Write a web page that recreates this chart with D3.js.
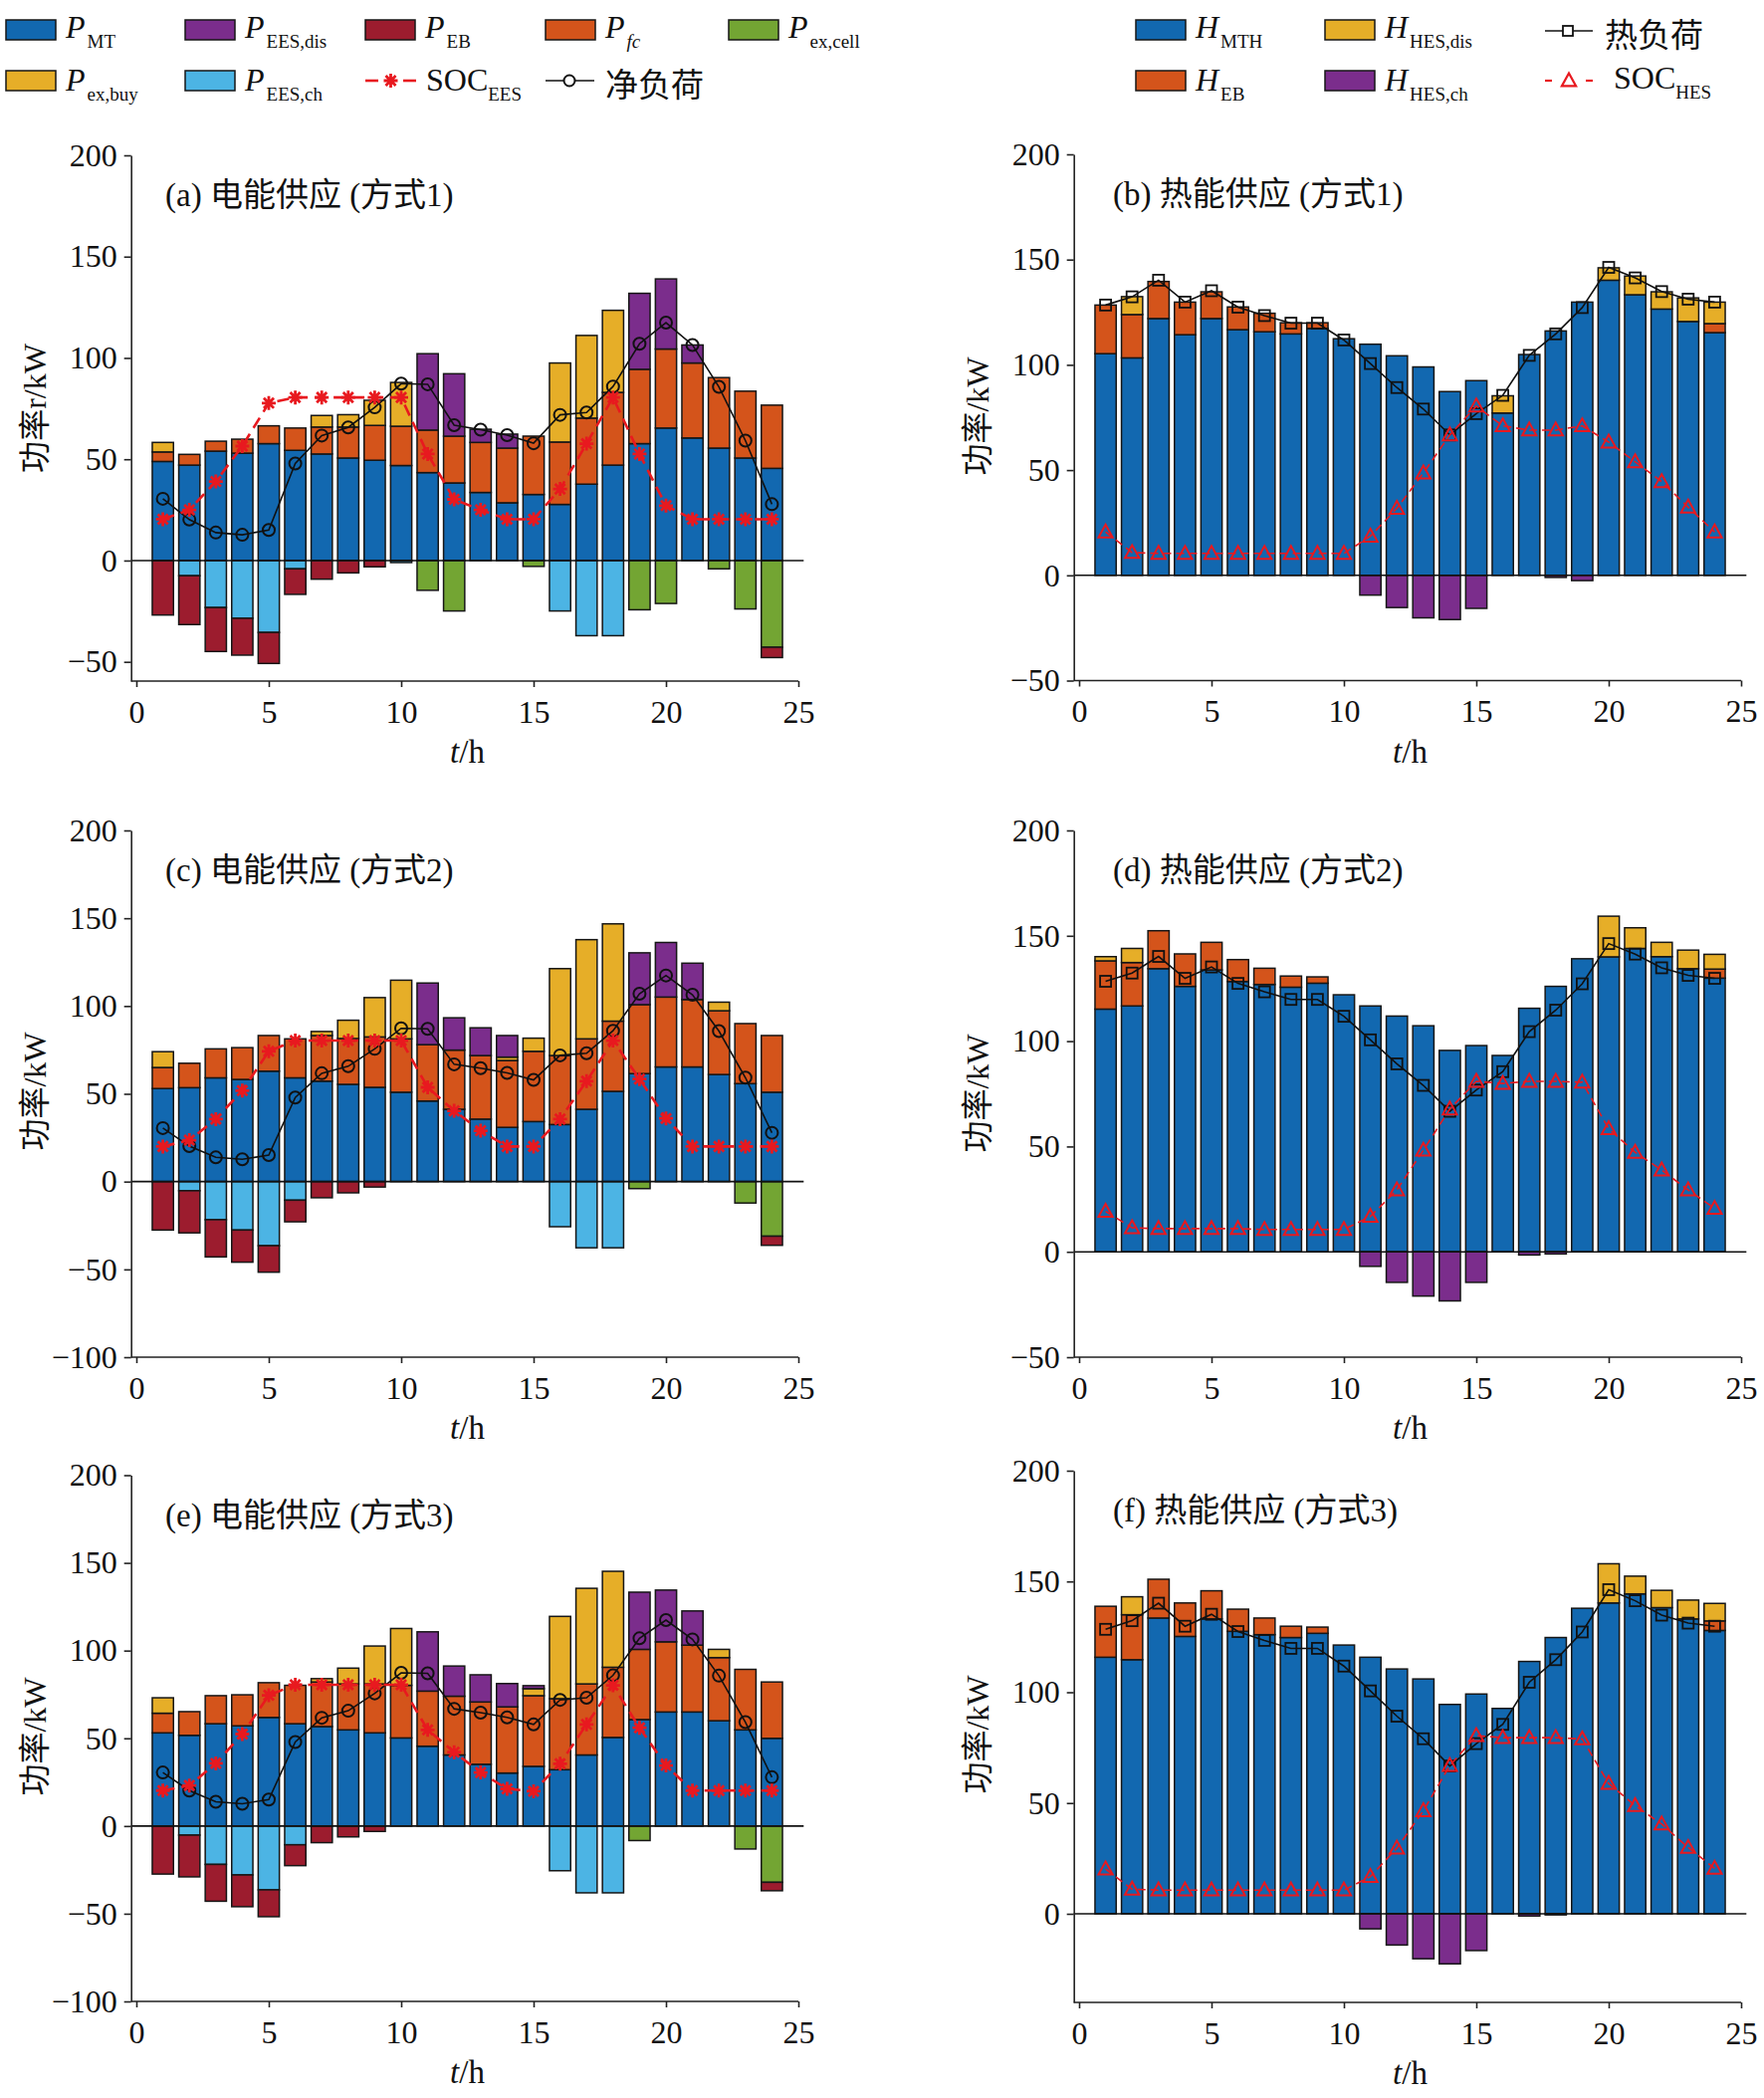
<!DOCTYPE html>
<html>
<head>
<meta charset="utf-8">
<script src="https://cdn.jsdelivr.net/npm/d3@7"></script>
<style>
body { margin: 0; background: #fff; }
text { font-family: "Liberation Serif", "Noto Sans CJK SC", serif; fill: #111; }
.cjk { font-family: "Noto Sans CJK SC", sans-serif; }
</style>
</head>
<body>
<svg id="chart" width="1772" height="2107"></svg>
<script>
var hours = [1,2,3,4,5,6,7,8,9,10,11,12,13,14,15,16,17,18,19,20,21,22,23,24];
var xTicks = [0,5,10,15,20,25];

// electric supply, mode 1
var a_MT   = [48.9,47.1,54.0,53.0,57.7,54.4,52.6,50.6,49.5,46.9,43.4,38.3,33.6,28.5,32.6,27.7,37.7,47.1,57.7,65.4,60.5,55.5,50.6,45.5];
var a_fc   = [4.7,5.3,4.9,6.9,8.8,11.0,13.3,15.3,17.2,19.4,21.0,23.1,24.7,27.0,28.8,30.8,32.6,35.9,36.7,39.0,37.0,34.8,33.0,31.2];
var a_buy  = [4.7,0,0,0,0,0,5.7,6.1,12.4,21.6,0,0,0,0,0,39.0,40.8,40.5,0,0,0,0,0,0];
var a_dis  = [0,0,0,0,0,0,0,0,0,0,37.7,30.8,6.5,6.9,0,0,0,0,37.5,34.6,8.9,0,0,0];
var a_ch   = [0,-7.5,-23.2,-28.5,-35.5,-4.1,0,0,0,-1.0,0,0,0,0,0,-24.9,-37.1,-37.1,0,0,0,0,0,0];
var a_cell = [0,0,0,0,0,0,0,0,0,0,-14.7,-24.9,0,0,-2.9,0,0,0,-24.3,-21.2,0,-4.1,-23.9,-42.8];
var a_EB   = [-26.9,-24.1,-21.7,-18.2,-15.3,-12.6,-9.2,-6.1,-3.1,0,0,0,0,0,0,0,0,0,0,0,0,0,0,-5.1];
var a_SOC  = [20.4,25.0,39.0,56.5,77.7,80.5,80.5,80.5,80.5,80.5,52.6,30.2,25.0,20.4,20.4,35.3,57.7,80.5,52.6,27.1,20.4,20.4,20.4,20.4];

// electric supply, mode 2
var c_MT   = [53.0,53.5,59.1,58.2,62.9,59.1,57.2,55.4,53.7,50.9,45.9,41.2,35.6,30.9,34.2,32.5,41.2,51.4,61.5,65.3,65.3,61.0,55.8,50.9];
var c_fc   = [12.0,13.9,16.5,18.1,20.3,22.2,26.0,26.1,28.7,30.4,32.1,33.7,36.2,38.1,40.0,39.3,40.1,40.0,39.3,39.8,38.4,36.3,34.2,32.3];
var c_buy  = [9.0,0,0,0,0,0,2.3,10.4,22.4,33.4,0,0,0,1.9,7.5,49.5,56.5,55.4,0,0,0,4.9,0,0];
var c_dis  = [0,0,0,0,0,0,0,0,0,0,35.1,18.4,15.8,12.3,0,0,0,0,29.5,31.1,20.7,0,0,0];
var c_ch   = [0,-5.2,-21.7,-27.6,-36.5,-10.6,0,0,0,0,0,0,0,0,0,-25.7,-37.7,-37.7,0,0,0,0,0,0];
var c_cell = [0,0,0,0,0,0,0,0,0,0,0,0,0,0,0,0,0,0,-4.0,0,0,0,-12.2,-31.1];
var c_EB   = [-27.6,-24.0,-21.2,-18.3,-15.1,-12.3,-9.2,-6.4,-3.1,0,0,0,0,0,0,0,0,0,0,0,0,0,0,-5.2];
var c_SOC  = [20.0,23.6,35.6,51.8,74.2,80.3,80.3,80.3,80.3,80.3,53.7,40.3,29.0,20.0,20.0,35.6,57.2,80.3,58.4,36.0,20.0,20.0,20.0,20.0];

// electric supply, mode 3
var e_MT   = [53.1,51.7,58.3,57.1,61.9,58.3,56.7,54.8,53.1,50.2,45.5,40.5,35.2,30.2,34.0,32.1,40.5,50.5,60.7,65.0,65.0,60.0,54.8,50.0];
var e_fc   = [11.2,13.5,16.0,17.7,19.8,21.9,25.4,26.2,27.9,30.0,31.4,33.5,35.5,37.7,40.3,40.5,40.5,40.0,40.0,40.0,38.1,36.0,34.5,32.1];
var e_buy  = [8.8,0,0,0,0,0,1.9,9.0,21.6,32.4,0,0,0,0,4.0,46.9,54.5,54.7,0,0,0,4.7,0,0];
var e_dis  = [0,0,0,0,0,0,0,0,0,0,33.8,17.2,15.5,13.3,1.7,0,0,0,32.6,29.5,19.5,0,0,0];
var e_ch   = [0,-5.2,-21.9,-27.9,-36.4,-10.7,0,0,0,0,0,0,0,0,0,-25.5,-38.1,-38.1,0,0,0,0,0,0];
var e_cell = [0,0,0,0,0,0,0,0,0,0,0,0,0,0,0,0,0,0,-8.3,0,0,0,-13.1,-32.1];
var e_EB   = [-27.4,-23.8,-21.0,-18.1,-15.3,-11.9,-9.5,-6.2,-3.1,0,0,0,0,0,0,0,0,0,0,0,0,0,0,-4.8];
var e_SOC  = [20.2,23.1,35.7,52.4,74.5,80.5,80.5,80.5,80.5,80.5,54.8,42.1,30.5,21.2,19.8,35.5,57.9,80.2,56.0,34.5,20.2,20.2,20.2,20.2];

var netLoad = [30.5,20.2,13.8,12.7,15.1,47.9,61.7,65.7,75.6,87.3,87.0,66.8,64.6,61.9,57.9,71.9,73.1,85.9,107.0,117.4,106.4,85.7,59.2,27.8];

// heat supply, mode 1
var b_MTH = [105.3,103.3,122.0,114.3,122.0,116.7,115.7,114.7,117.3,112.4,109.8,104.3,99.0,87.3,92.5,77.1,104.9,116.1,129.8,140.2,133.3,126.5,120.6,115.3];
var b_EB  = [23.1,20.6,17.6,15.5,12.7,10.8,8.8,5.3,2.7,0,0,0,0,0,0,0,0,0,0,0,0,0,0,4.3];
var b_dis = [0,8.5,0,0,0,0,0,0,0,0,0,0,0,0,0,8.2,0,0,0,5.9,8.9,8.2,11.2,10.2];
var b_ch  = [0,0,0,0,0,0,0,0,0,0,-9.4,-15.3,-20.2,-21.0,-15.7,0,0,-1.0,-2.5,0,0,0,0,0];
var b_SOC = [20.6,10.8,10.4,10.4,10.4,10.4,10.4,10.4,10.4,10.4,18.6,31.8,48.6,66.7,80.4,71.0,69.0,69.0,71.0,63.3,53.9,44.5,32.4,20.6];

// heat supply, mode 2
var d_MTH = [115.2,116.7,134.4,126.0,133.8,128.3,126.9,125.6,127.5,122.0,116.7,111.9,107.3,95.6,97.9,93.2,115.6,126.0,139.1,140.0,144.0,140.1,134.4,129.9];
var d_EB  = [22.9,20.6,18.0,15.4,13.1,10.4,7.7,5.3,3.0,0,0,0,0,0,0,0,0,0,0,0,0,0,0,4.3];
var d_dis = [2.0,6.7,0,0,0,0,0,0,0,0,0,0,0,0,0,0,0,0,0,19.3,9.8,6.8,8.8,7.0];
var d_ch  = [0,0,0,0,0,0,0,0,0,0,-6.9,-14.5,-21.0,-23.3,-14.5,0,-1.5,-1.0,0,0,0,0,0,0];
var d_SOC = [19.2,11.4,11.0,11.0,11.0,11.0,10.6,10.6,10.6,10.6,16.8,29.4,48.2,67.8,80.9,79.9,80.9,80.9,80.5,58.4,47.2,38.8,29.4,20.6];

// heat supply, mode 3
var f_MTH = [115.8,114.7,133.5,125.2,133.1,127.5,126.0,124.7,126.6,121.3,115.8,110.5,106.0,94.5,99.2,92.7,113.9,124.7,137.9,140.3,144.4,138.2,133.1,127.9];
var f_EB  = [23.0,20.3,17.5,15.1,12.7,10.0,7.5,5.1,2.8,0,0,0,0,0,0,0,0,0,0,0,0,0,0,4.3];
var f_dis = [0,8.1,0,0,0,0,0,0,0,0,0,0,0,0,0,0,0,0,0,17.7,8.0,7.8,8.5,7.9];
var f_ch  = [0,0,0,0,0,0,0,0,0,0,-6.8,-14.1,-20.3,-22.6,-16.6,0,-1.0,-0.5,0,0,0,0,0,0];
var f_SOC = [20.2,11.1,10.7,10.7,10.7,10.7,10.7,10.7,10.7,10.7,16.8,29.6,46.5,66.9,80.4,79.5,79.5,79.5,78.9,58.8,48.8,40.5,29.9,20.5];

var heatLoad = [128.4,132.3,140.2,129.8,135.2,127.4,123.4,119.8,119.8,111.8,100.6,89.2,79.0,66.7,76.8,85.5,104.5,114.7,127.2,146.3,141.3,134.8,131.2,129.8];

var elecKeys = ["MT", "fc", "buy", "dis", "ch", "cell", "EB"];
var heatKeys = ["MTH", "EB", "dis", "ch"];

var elecColor = { MT: "#1268B0", fc: "#D4541B", buy: "#E6AE28", dis: "#7B2D8C", ch: "#4CB4E4", cell: "#73A533", EB: "#9C1C2E" };
var heatColor = { MTH: "#1268B0", EB: "#D4541B", dis: "#E6AE28", ch: "#7B2D8C" };
var red = "#E8191F";

var panels = [
    { kind: "elec", title: "(a) 电能供应 (方式1)", ylabel: "功率r/kW", x0: 137, tx: 166, y200: 156, yBottom: 684, yMin: -59.5, ly: 410,
      ticks: [-50,0,50,100,150,200], series: { MT: a_MT, fc: a_fc, buy: a_buy, dis: a_dis, ch: a_ch, cell: a_cell, EB: a_EB }, soc: a_SOC },
    { kind: "heat", title: "(b) 热能供应 (方式1)", ylabel: "功率/kW", x0: 1084, tx: 1118, y200: 155, yBottom: 683.5, yMin: -50, ly: 418,
      ticks: [-50,0,50,100,150,200], series: { MTH: b_MTH, EB: b_EB, dis: b_dis, ch: b_ch }, soc: b_SOC },
    { kind: "elec", title: "(c) 电能供应 (方式2)", ylabel: "功率/kW", x0: 137, tx: 166, y200: 834, yBottom: 1363, yMin: -100, ly: 1096,
      ticks: [-100,-50,0,50,100,150,200], series: { MT: c_MT, fc: c_fc, buy: c_buy, dis: c_dis, ch: c_ch, cell: c_cell, EB: c_EB }, soc: c_SOC },
    { kind: "heat", title: "(d) 热能供应 (方式2)", ylabel: "功率/kW", x0: 1084, tx: 1118, y200: 834, yBottom: 1363, yMin: -50, ly: 1098,
      ticks: [-50,0,50,100,150,200], series: { MTH: d_MTH, EB: d_EB, dis: d_dis, ch: d_ch }, soc: d_SOC },
    { kind: "elec", title: "(e) 电能供应 (方式3)", ylabel: "功率/kW", x0: 137, tx: 166, y200: 1481.5, yBottom: 2010, yMin: -100, ly: 1744,
      ticks: [-100,-50,0,50,100,150,200], series: { MT: e_MT, fc: e_fc, buy: e_buy, dis: e_dis, ch: e_ch, cell: e_cell, EB: e_EB }, soc: e_SOC },
    { kind: "heat", title: "(f) 热能供应 (方式3)", ylabel: "功率/kW", x0: 1084, tx: 1118, y200: 1477, yBottom: 2011, yMin: -40, ly: 1742,
      ticks: [0,50,100,150,200], series: { MTH: f_MTH, EB: f_EB, dis: f_dis, ch: f_ch }, soc: f_SOC }
];

var svg = d3.select("#chart");

function asterisk(s) {
    var k = s * 0.72;
    return "M" + (-s) + ",0L" + s + ",0M0," + (-s) + "L0," + s +
        "M" + (-k) + "," + (-k) + "L" + k + "," + k + "M" + (-k) + "," + k + "L" + k + "," + (-k);
}
function triangle(s) {
    return "M0," + (-s) + "L" + (s * 0.95) + "," + (s * 0.72) + "L" + (-s * 0.95) + "," + (s * 0.72) + "Z";
}

function drawPanel(p) {
    var keys = p.kind === "elec" ? elecKeys : heatKeys;
    var colors = p.kind === "elec" ? elecColor : heatColor;
    var x = d3.scaleLinear().domain([0, 25]).range([p.x0, p.x0 + 665]);
    var y = d3.scaleLinear().domain([p.yMin, 200]).range([p.yBottom, p.y200]);
    var ax = x(-0.2);
    var g = svg.append("g");

    var rows = hours.map(function(h, i) {
        var r = { hour: h };
        keys.forEach(function(k) { r[k] = p.series[k][i]; });
        return r;
    });
    var layers = d3.stack().keys(keys).offset(d3.stackOffsetDiverging)(rows);

    layers.forEach(function(layer) {
        g.selectAll(null)
            .data(layer.filter(function(d) { return d[1] !== d[0]; }))
            .enter()
            .append("rect")
            .attr("x", function(d) { return x(d.data.hour - 0.4); })
            .attr("width", x(0.8) - x(0))
            .attr("y", function(d) { return y(Math.max(d[0], d[1])); })
            .attr("height", function(d) { return Math.abs(y(d[0]) - y(d[1])); })
            .attr("fill", colors[layer.key])
            .attr("stroke", "#161616")
            .attr("stroke-width", 1.5);
    });

    // zero line
    g.append("line")
        .attr("x1", ax).attr("x2", x(25.2))
        .attr("y1", y(0)).attr("y2", y(0))
        .attr("stroke", "#111").attr("stroke-width", 1.6);

    // axes
    var yAxis = g.append("g")
        .attr("transform", "translate(" + ax + ",0)")
        .call(d3.axisLeft(y).tickValues(p.ticks).tickSize(7).tickSizeOuter(0).tickPadding(7));
    var xAxis = g.append("g")
        .attr("transform", "translate(0," + p.yBottom + ")")
        .call(d3.axisBottom(x).tickValues(xTicks).tickSize(6).tickSizeOuter(0).tickPadding(13));
    xAxis.select(".domain").remove();
    g.append("line")
        .attr("x1", ax).attr("x2", x(25))
        .attr("y1", p.yBottom).attr("y2", p.yBottom)
        .attr("stroke", "#222").attr("stroke-width", 1.6);
    [yAxis, xAxis].forEach(function(a) {
        a.attr("font-size", 32).attr("font-family", "Liberation Serif");
        a.selectAll("path, line").attr("stroke", "#222").attr("stroke-width", 1.6);
        a.selectAll("text").attr("fill", "#111");
    });

    // axis titles
    var xt = g.append("text")
        .attr("x", x(12.5)).attr("y", p.yBottom + 82)
        .attr("text-anchor", "middle")
        .attr("font-size", 33);
    xt.append("tspan").attr("font-style", "italic").text("t");
    xt.append("tspan").text("/h");

    g.append("text")
        .attr("transform", "translate(" + (p.x0 - 102) + "," + p.ly + ") rotate(-90)")
        .attr("text-anchor", "middle")
        .attr("dominant-baseline", "central")
        .attr("font-size", 32)
        .text(p.ylabel);

    g.append("text")
        .attr("x", p.tx).attr("y", p.y200 + 40)
        .attr("dominant-baseline", "central")
        .attr("font-size", 33)
        .text(p.title);

    // lines
    var line = d3.line()
        .x(function(d) { return x(d.h); })
        .y(function(d) { return y(d.v); });
    var load = p.kind === "elec" ? netLoad : heatLoad;
    var loadPts = hours.map(function(h, i) { return { h: h, v: load[i] }; });
    var socPts = hours.map(function(h, i) { return { h: h, v: p.soc[i] }; });

    g.append("path")
        .datum(loadPts)
        .attr("d", line)
        .attr("fill", "none")
        .attr("stroke", "#111")
        .attr("stroke-width", 1.6);

    if (p.kind === "elec") {
        g.selectAll(null).data(loadPts).enter().append("circle")
            .attr("cx", function(d) { return x(d.h); })
            .attr("cy", function(d) { return y(d.v); })
            .attr("r", 6)
            .attr("fill", "none")
            .attr("stroke", "#111")
            .attr("stroke-width", 2);
    } else {
        g.selectAll(null).data(loadPts).enter().append("rect")
            .attr("x", function(d) { return x(d.h) - 5.5; })
            .attr("y", function(d) { return y(d.v) - 5.5; })
            .attr("width", 11).attr("height", 11)
            .attr("fill", "none")
            .attr("stroke", "#111")
            .attr("stroke-width", 1.8);
    }

    g.append("path")
        .datum(socPts)
        .attr("d", line)
        .attr("fill", "none")
        .attr("stroke", red)
        .attr("stroke-width", p.kind === "elec" ? 2.6 : 1.6)
        .attr("stroke-dasharray", p.kind === "elec" ? "12,7" : "8,5");

    g.selectAll(null).data(socPts).enter().append("path")
        .attr("transform", function(d) { return "translate(" + x(d.h) + "," + y(d.v) + ")"; })
        .attr("d", p.kind === "elec" ? asterisk(7) : triangle(7.5))
        .attr("fill", "none")
        .attr("stroke", red)
        .attr("stroke-width", p.kind === "elec" ? 2.8 : 2);
}

panels.forEach(drawPanel);

// legends
var legendBoxes = [
    { x: 6,    row: 0, color: elecColor.MT,   main: "P", sub: "MT" },
    { x: 186,  row: 0, color: elecColor.dis,  main: "P", sub: "EES,dis" },
    { x: 367,  row: 0, color: elecColor.EB,   main: "P", sub: "EB" },
    { x: 548,  row: 0, color: elecColor.fc,   main: "P", sub: "fc", subItalic: true },
    { x: 732,  row: 0, color: elecColor.cell, main: "P", sub: "ex,cell" },
    { x: 6,    row: 1, color: elecColor.buy,  main: "P", sub: "ex,buy" },
    { x: 186,  row: 1, color: elecColor.ch,   main: "P", sub: "EES,ch" },
    { x: 1141, row: 0, color: heatColor.MTH,  main: "H", sub: "MTH" },
    { x: 1331, row: 0, color: heatColor.dis,  main: "H", sub: "HES,dis" },
    { x: 1141, row: 1, color: heatColor.EB,   main: "H", sub: "EB" },
    { x: 1331, row: 1, color: heatColor.ch,   main: "H", sub: "HES,ch" }
];
var rowTop = [20, 71], rowBase = [38, 91];

var leg = svg.append("g");
legendBoxes.forEach(function(d) {
    leg.append("rect")
        .attr("x", d.x).attr("y", rowTop[d.row])
        .attr("width", 50).attr("height", 20)
        .attr("fill", d.color)
        .attr("stroke", "#161616").attr("stroke-width", 1.5);
    var t = leg.append("text")
        .attr("x", d.x + 60).attr("y", rowBase[d.row])
        .attr("font-size", 32);
    t.append("tspan").attr("font-style", "italic").text(d.main);
    t.append("tspan")
        .attr("font-size", 19)
        .attr("dx", 2).attr("dy", 10)
        .attr("font-style", d.subItalic ? "italic" : "normal")
        .text(d.sub);
});

// SOC_EES legend
leg.append("line").attr("x1", 367).attr("x2", 380).attr("y1", 81).attr("y2", 81)
    .attr("stroke", red).attr("stroke-width", 2.6);
leg.append("line").attr("x1", 405).attr("x2", 418).attr("y1", 81).attr("y2", 81)
    .attr("stroke", red).attr("stroke-width", 2.6);
leg.append("path").attr("transform", "translate(392.5,81)").attr("d", asterisk(7))
    .attr("fill", "none").attr("stroke", red).attr("stroke-width", 2.8);
var s1 = leg.append("text").attr("x", 428).attr("y", 91).attr("font-size", 32);
s1.append("tspan").text("SOC");
s1.append("tspan").attr("font-size", 19).attr("dy", 10).text("EES");

// net load legend
leg.append("line").attr("x1", 548).attr("x2", 597).attr("y1", 81).attr("y2", 81)
    .attr("stroke", "#111").attr("stroke-width", 1.6);
leg.append("circle").attr("cx", 572).attr("cy", 81).attr("r", 5.5)
    .attr("fill", "#fff").attr("stroke", "#111").attr("stroke-width", 2);
leg.append("text").attr("class", "cjk").attr("x", 608).attr("y", 83)
    .attr("dominant-baseline", "central").attr("font-size", 33).text("净负荷");

// heat load legend
leg.append("line").attr("x1", 1552).attr("x2", 1600).attr("y1", 31).attr("y2", 31)
    .attr("stroke", "#111").attr("stroke-width", 1.6);
leg.append("rect").attr("x", 1570).attr("y", 26).attr("width", 10).attr("height", 10)
    .attr("fill", "#fff").attr("stroke", "#111").attr("stroke-width", 1.8);
leg.append("text").attr("class", "cjk").attr("x", 1612).attr("y", 33)
    .attr("dominant-baseline", "central").attr("font-size", 33).text("热负荷");

// SOC_HES legend
leg.append("line").attr("x1", 1552).attr("x2", 1559).attr("y1", 81).attr("y2", 81)
    .attr("stroke", red).attr("stroke-width", 2.2);
leg.append("line").attr("x1", 1593).attr("x2", 1600).attr("y1", 81).attr("y2", 81)
    .attr("stroke", red).attr("stroke-width", 2.2);
leg.append("path").attr("transform", "translate(1576,81)").attr("d", triangle(7.5))
    .attr("fill", "none").attr("stroke", red).attr("stroke-width", 2.2);
var s2 = leg.append("text").attr("x", 1621).attr("y", 89).attr("font-size", 32);
s2.append("tspan").text("SOC");
s2.append("tspan").attr("font-size", 19).attr("dy", 10).text("HES");
</script>
</body>
</html>
